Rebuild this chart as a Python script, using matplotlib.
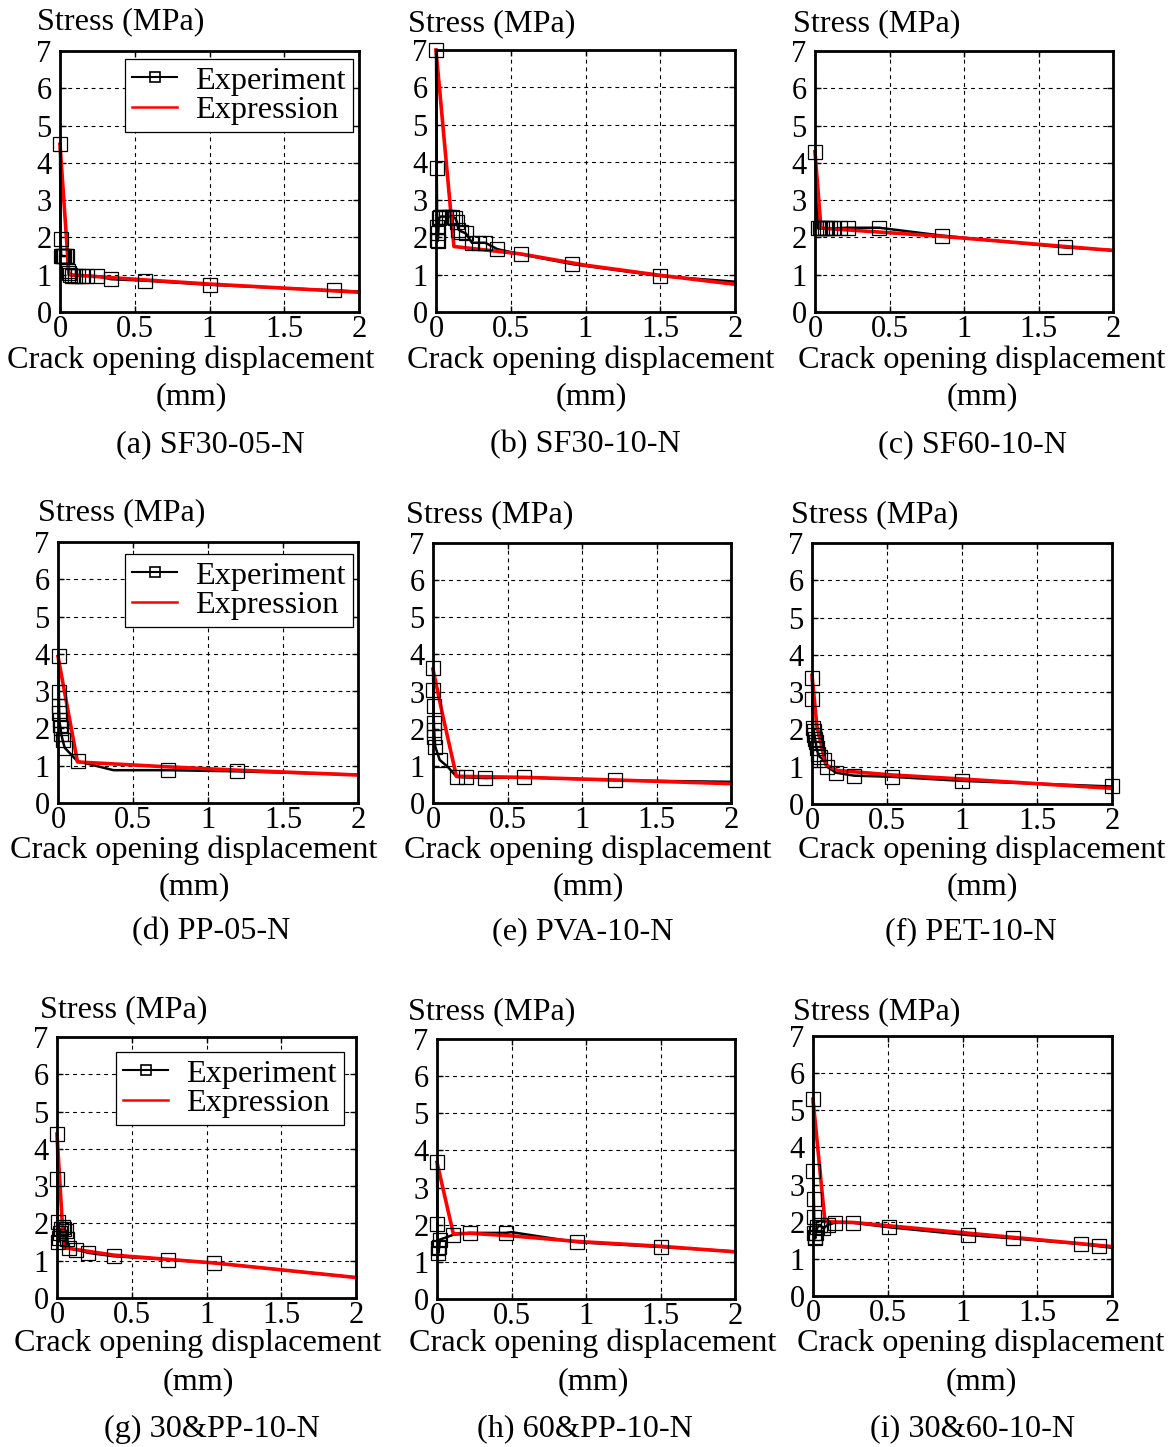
import matplotlib
matplotlib.use("Agg")
import matplotlib.pyplot as plt
from matplotlib.lines import Line2D

plt.rcParams['font.family'] = ['Liberation Serif', 'DejaVu Serif']

W, H = 1176, 1447
DPI = 100

# ---------------- data ----------------
titles = ["(a) SF30-05-N", "(b) SF30-10-N", "(c) SF60-10-N",
          "(d) PP-05-N", "(e) PVA-10-N", "(f) PET-10-N",
          "(g) 30&PP-10-N", "(h) 60&PP-10-N", "(i) 30&60-10-N"]

xticks = [0, 0.5, 1, 1.5, 2]
xtick_labels = ["0", "0.5", "1", "1.5", "2"]
yticks = [0, 1, 2, 3, 4, 5, 6, 7]
ytick_labels = ["0", "1", "2", "3", "4", "5", "6", "7"]

exp_a_x = [0, 0.004, 0.008, 0.012, 0.02, 0.03, 0.04, 0.05, 0.055, 0.06, 0.07, 0.08, 0.1, 0.12, 0.15, 0.18, 0.25, 0.34, 0.57, 1.0, 1.83, 2.0]
exp_a_y = [4.5, 1.96, 1.5, 1.5, 1.5, 1.5, 1.5, 1.5, 1.1, 1.05, 1.0, 0.97, 0.97, 0.97, 0.97, 0.97, 0.96, 0.88, 0.84, 0.73, 0.58, 0.55]
fit_a_x = [0, 0.06, 0.57, 1.0, 2.0]
fit_a_y = [4.5, 1.0, 0.86, 0.75, 0.53]

exp_b_x = [0, 0.005, 0.008, 0.01, 0.012, 0.015, 0.02, 0.03, 0.05, 0.07, 0.09, 0.11, 0.13, 0.14, 0.15, 0.17, 0.2, 0.24, 0.29, 0.33, 0.41, 0.57, 0.91, 1.5, 2.0]
exp_b_y = [7.0, 3.85, 2.26, 1.92, 1.9, 2.1, 2.5, 2.55, 2.55, 2.55, 2.55, 2.55, 2.5, 2.4, 2.2, 2.15, 2.1, 1.85, 1.85, 1.85, 1.68, 1.54, 1.28, 0.96, 0.81]
fit_b_x = [0, 0.12, 0.57, 1.0, 1.5, 2.0]
fit_b_y = [7.0, 1.75, 1.55, 1.25, 0.98, 0.74]

exp_c_x = [0, 0.02, 0.035, 0.05, 0.065, 0.08, 0.1, 0.12, 0.17, 0.22, 0.43, 0.85, 1.68, 2.0]
exp_c_y = [4.3, 2.24, 2.24, 2.24, 2.24, 2.24, 2.24, 2.24, 2.25, 2.26, 2.26, 2.05, 1.73, 1.66]
fit_c_x = [0, 0.04, 0.85, 2.0]
fit_c_y = [4.3, 2.25, 2.03, 1.65]

exp_d_x = [0.005, 0.006, 0.007, 0.008, 0.01, 0.013, 0.017, 0.022, 0.03, 0.045, 0.13, 0.37, 0.73, 1.19, 2.0]
exp_d_y = [3.93, 2.97, 2.59, 2.41, 2.23, 2.1, 2.0, 1.85, 1.7, 1.48, 1.12, 0.88, 0.88, 0.85, 0.76]
fit_d_x = [0, 0.13, 0.73, 1.2, 2.0]
fit_d_y = [3.93, 1.1, 0.97, 0.88, 0.75]

exp_e_x = [0, 0.002, 0.004, 0.006, 0.008, 0.01, 0.015, 0.045, 0.1, 0.16, 0.22, 0.35, 0.61, 1.22, 2.0]
exp_e_y = [3.63, 3.04, 2.6, 2.15, 1.97, 1.79, 1.52, 1.16, 0.97, 0.70, 0.69, 0.67, 0.69, 0.61, 0.57]
fit_e_x = [0, 0.067, 0.157, 0.61, 1.22, 2.0]
fit_e_y = [3.6, 2.33, 0.72, 0.69, 0.62, 0.52]

exp_f_x = [0, 0.002, 0.008, 0.012, 0.016, 0.02, 0.025, 0.03, 0.04, 0.05, 0.08, 0.1, 0.16, 0.28, 0.53, 1.0, 2.0]
exp_f_y = [3.39, 2.81, 2.03, 1.95, 1.85, 1.75, 1.65, 1.5, 1.35, 1.27, 1.18, 1.0, 0.84, 0.76, 0.73, 0.62, 0.47]
fit_f_x = [0, 0.033, 0.093, 0.17, 0.53, 1.0, 2.0]
fit_f_y = [3.45, 2.08, 1.05, 0.9, 0.78, 0.67, 0.42]

exp_g_x = [0, 0.003, 0.006, 0.01, 0.015, 0.02, 0.03, 0.04, 0.05, 0.06, 0.07, 0.08, 0.13, 0.21, 0.38, 0.74, 1.05, 2.0]
exp_g_y = [4.39, 3.19, 2.04, 1.5, 1.6, 1.75, 1.85, 1.9, 1.85, 1.8, 1.57, 1.33, 1.3, 1.21, 1.12, 1.03, 0.94, 0.55]
fit_g_x = [0, 0.045, 0.38, 1.05, 2.0]
fit_g_y = [4.4, 1.35, 1.15, 0.94, 0.55]

exp_h_x = [0, 0.003, 0.006, 0.01, 0.015, 0.02, 0.11, 0.22, 0.46, 0.5, 0.94, 1.5, 2.0]
exp_h_y = [3.68, 2.03, 1.37, 1.24, 1.4, 1.6, 1.73, 1.78, 1.78, 1.8, 1.53, 1.40, 1.28]
fit_h_x = [0, 0.11, 0.22, 0.5, 0.94, 1.5, 2.0]
fit_h_y = [3.68, 1.75, 1.77, 1.7, 1.55, 1.42, 1.27]

exp_i_x = [0, 0.003, 0.006, 0.008, 0.01, 0.012, 0.015, 0.02, 0.03, 0.05, 0.07, 0.1, 0.145, 0.27, 0.51, 1.04, 1.34, 1.79, 1.91, 2.0]
exp_i_y = [5.3, 3.37, 2.6, 2.13, 1.7, 1.6, 1.55, 1.7, 1.86, 1.9, 1.82, 1.92, 1.97, 1.97, 1.85, 1.64, 1.55, 1.40, 1.34, 1.3]
fit_i_x = [0, 0.08, 0.27, 2.0]
fit_i_y = [5.3, 2.0, 1.98, 1.33]

exp_x = [exp_a_x, exp_b_x, exp_c_x, exp_d_x, exp_e_x, exp_f_x, exp_g_x, exp_h_x, exp_i_x]
exp_y = [exp_a_y, exp_b_y, exp_c_y, exp_d_y, exp_e_y, exp_f_y, exp_g_y, exp_h_y, exp_i_y]
fit_x = [fit_a_x, fit_b_x, fit_c_x, fit_d_x, fit_e_x, fit_f_x, fit_g_x, fit_h_x, fit_i_x]
fit_y = [fit_a_y, fit_b_y, fit_c_y, fit_d_y, fit_e_y, fit_f_y, fit_g_y, fit_h_y, fit_i_y]
# indices of experimental points drawn without a marker
no_marker = [[21], [24], [13], [11, 14], [8, 14], [], [17], [9, 12], [19]]
has_legend = [True, False, False, True, False, False, True, False, False]

# ---------------- layout (pixels) ----------------
axes_px = [(60, 51, 359, 312), (436, 50, 735, 312), (815, 51, 1113, 312),
           (58, 542, 358, 803), (433, 543, 731, 803), (812, 543, 1112, 804),
           (57, 1037, 356, 1298), (437, 1039, 735, 1299), (813, 1036, 1112, 1296)]
ylab_pos = [(37, 22), (408, 24), (793, 24), (38, 513), (406, 515), (791, 515),
            (40, 1010), (408, 1012), (793, 1012)]
xlab_cx = [191, 591, 982, 194, 588, 982, 198, 593, 981]
cap_cx = [210, 585, 973, 211, 583, 971, 212, 585, 973]
row_xlab_y = [360, 850, 1343]
row_mm_y = [397, 887, 1382]
row_cap_y = [445, 932, 1429]
legend_px = [(125, 59, 350, 130), None, None, (125, 554, 350, 626), None, None,
             (116, 1052, 341, 1123), None, None]

FS = 23.2
TFS = 22

fig = plt.figure(figsize=(W / DPI, H / DPI), dpi=DPI)

def fx(px):
    return px / W

def fy(py):
    return 1 - py / H

for k in range(9):
    l, t, r, b = axes_px[k]
    ax = fig.add_axes([fx(l), fy(b), (r - l) / W, (b - t) / H])
    ax.set_xlim(0, 2)
    ax.set_ylim(0, 7)
    ax.set_xticks(xticks)
    ax.set_xticklabels(xtick_labels)
    ax.set_yticks(yticks)
    ax.set_yticklabels(ytick_labels)
    ax.tick_params(direction='in', length=4, width=1, labelsize=TFS,
                   top=True, right=True, pad=2)
    ax.tick_params(axis='y', pad=6)
    for s in ax.spines.values():
        s.set_linewidth(2.0)
        s.set_zorder(10)
    ax.grid(True, color='black', linestyle=(0, (3.5, 3.5)), linewidth=0.8)
    ax.set_axisbelow(True)

    xs, ys = exp_x[k], exp_y[k]
    ax.plot(xs, ys, color='black', linewidth=1.8, zorder=3, clip_on=False)
    ax.plot(fit_x[k], fit_y[k], color='#ff0000', linewidth=2.6, zorder=4, clip_on=False)
    mk = [i for i in range(len(xs)) if i not in no_marker[k]]
    ax.plot([xs[i] for i in mk], [ys[i] for i in mk], linestyle='none', marker='s',
            markersize=9.5, markerfacecolor='none', markeredgecolor='black',
            markeredgewidth=0.9, zorder=5, clip_on=False)

    if has_legend[k]:
        ll, lt, lr, lb = legend_px[k]
        h1 = Line2D([], [], color='black', linewidth=1.5, marker='s', markersize=7,
                    markerfacecolor='none', markeredgecolor='black', markeredgewidth=1.2)
        h2 = Line2D([], [], color='#ff0000', linewidth=1.8)
        leg = ax.legend([h1, h2], ["Experiment", "Expression"], fontsize=FS,
                        loc='upper left',
                        bbox_to_anchor=((ll - l) / (r - l), 1 - (lt - t) / (b - t)),
                        frameon=True, fancybox=False, edgecolor='black',
                        framealpha=1, borderpad=0.22, labelspacing=0.0,
                        handlelength=1.4, handletextpad=0.55, borderaxespad=0.0)
        leg.get_frame().set_linewidth(0.9)
        leg.set_zorder(20)

    row = k // 3
    fig.text(fx(ylab_pos[k][0]), fy(ylab_pos[k][1]), "Stress (MPa)", fontsize=FS,
             ha='left', va='center')
    fig.text(fx(xlab_cx[k]), fy(row_xlab_y[row]), "Crack opening displacement",
             fontsize=FS, ha='center', va='center')
    fig.text(fx(xlab_cx[k]), fy(row_mm_y[row]), "(mm)", fontsize=FS,
             ha='center', va='center')
    fig.text(fx(cap_cx[k]), fy(row_cap_y[row]), titles[k], fontsize=FS,
             ha='center', va='center')

fig.savefig("out.png", dpi=DPI)
